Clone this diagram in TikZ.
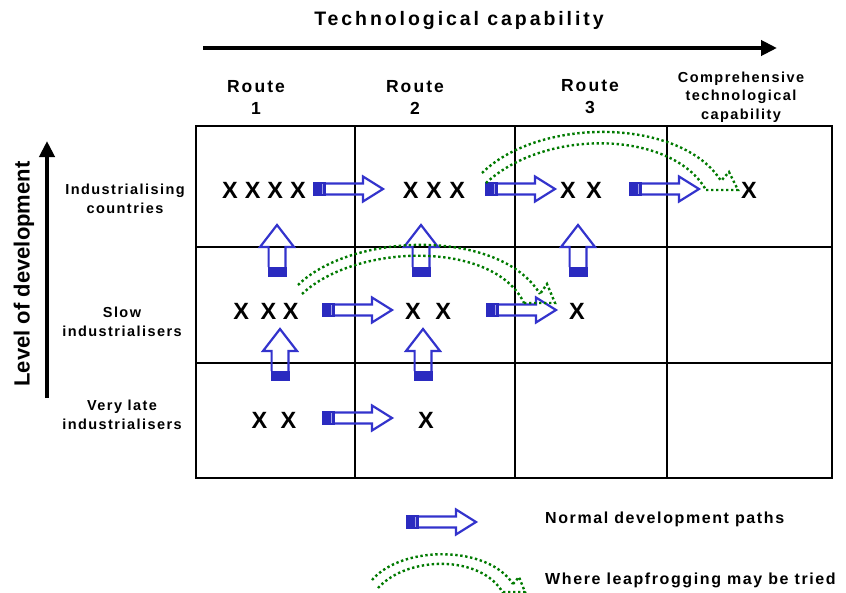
\documentclass[tikz,border=0pt]{standalone}
\usepackage{fontspec}
\setmainfont{Liberation Sans}
\newfontfamily\lsA[LetterSpace=10]{Liberation Sans}
\newfontfamily\lsB[LetterSpace=15]{Liberation Sans}
\newfontfamily\lsC[LetterSpace=12]{Liberation Sans}
\usetikzlibrary{arrows.meta}
\definecolor{arrblue}{HTML}{3333CC}
\definecolor{tailblue}{HTML}{2B2BC0}
\definecolor{leapgreen}{HTML}{007A00}
\tikzset{
  grid line/.style={line width=2.4pt, black},
  axis arrow/.style={line width=4pt, -{Triangle[length=16pt,width=15pt]}},
  lbl/.style={inner sep=0pt, align=center, font=\lsA\bfseries\fontsize{14.5}{18.5}\selectfont},
  routelbl/.style={inner sep=0pt, align=center, font=\lsC\bfseries\fontsize{17.5}{22}\selectfont},
  xlbl/.style={inner sep=0pt, font=\bfseries\fontsize{23.5}{23.5}\selectfont},
  leap/.style={draw=leapgreen, line width=2.4pt, dash pattern=on 2.4pt off 2.6pt},
  outl/.style={draw=arrblue, line width=2.2pt, line join=miter},
  pics/harr/.style={code={
    \fill[tailblue] (0,-6.6) rectangle (13,6.6);
    \draw[white!55!arrblue, line width=0.8pt] (9,-5) -- (9,5);
    \draw[outl] (13,-5.5) -- (50,-5.5) -- (50,-12.5) -- (70,0) -- (50,12.5) -- (50,5.5) -- (13,5.5);
  }},
  pics/varr/.style={code={
    \fill[tailblue] (-9.5,0) rectangle (9.5,-10);
    \draw[outl] (-8.4,-10) -- (-8.4,-30) -- (-17,-30) -- (0,-52) -- (17,-30) -- (8.4,-30) -- (8.4,-10);
  }}
}
\begin{document}
\begin{tikzpicture}[x=1pt,y=-1pt]
\useasboundingbox (0,0) rectangle (846,592);
% grid
\draw[grid line] (196,126) rectangle (832,478);
\foreach \xx in {355,515,667} \draw[grid line] (\xx,126) -- (\xx,478);
\foreach \yy in {247,363} \draw[grid line] (196,\yy) -- (832,\yy);
% axes
\node[inner sep=0pt, font=\lsB\bfseries\fontsize{19.5}{20}\selectfont] (title) at (459,20) {Technological capability};
\coordinate (hx0) at (203,48);
\coordinate (hx1) at (777,48);
\draw[axis arrow] (hx0) -- (hx1);
\coordinate (vy0) at (47,398);
\coordinate (vy1) at (47,141);
\draw[axis arrow] (vy0) -- (vy1);
\node[inner sep=0pt, rotate=90, font=\bfseries\fontsize{22}{22}\selectfont] (lod) at (24,274) {Level of development};
% column labels
\node[routelbl] (r1) at (256,97) {Route\\1};
\node[routelbl] (r2) at (415,97) {Route\\2};
\node[routelbl] (r3) at (590,97) {Route\\3};
\node[lbl] (ctc) at (741,97) {Comprehensive\\technological\\capability};
% row labels
\node[lbl] (ic) at (125,199) {Industrialising\\countries};
\node[lbl] (si) at (122,322) {Slow\\industrialisers};
\node[lbl] (vl) at (122,415) {Very late\\industrialisers};
% X marks
\node[xlbl] (a1) at (264,190) {X\hspace{7pt}X\hspace{7pt}X\hspace{7pt}X};
\node[xlbl] (a2) at (434,190) {X\hspace{7.5pt}X\hspace{7.5pt}X};
\node[xlbl] (a3) at (581,190) {X\hspace{10.5pt}X};
\node[xlbl] (a4) at (749,190) {X};
\node[xlbl] (b1) at (266,311) {X\hspace{11.5pt}X\hspace{6.5pt}X};
\node[xlbl] (b2) at (428,311) {X\hspace{14.5pt}X};
\node[xlbl] (b3) at (577,311) {X};
\node[xlbl] (c1) at (274,420) {X\hspace{13.5pt}X};
\node[xlbl] (c2) at (426,420) {X};
% horizontal arrows
\pic at (313,189) {harr};
\pic at (485,189) {harr};
\pic at (629,189) {harr};
\pic at (322,310) {harr};
\pic at (486,310) {harr};
\pic at (322,418) {harr};
% vertical arrows
\pic at (277,277) {varr};
\pic at (421,277) {varr};
\pic at (578,277) {varr};
\pic at (280,381) {varr};
\pic at (423,381) {varr};
% leapfrog arcs
\draw[leap] (482,173) .. controls (540,116) and (682,118) .. (721,181);
\draw[leap] (486,183) .. controls (545,128) and (672,130) .. (706,190);
\draw[leap] (706,190) -- (738,190) -- (729,172) -- (721,181);
\draw[leap] (298,285) .. controls (352,232) and (500,228) .. (540,294);
\draw[leap] (302,294) .. controls (356,243) and (494,240) .. (524,303);
\draw[leap] (524,303) -- (555,303) -- (547,284) -- (540,294);
% legend
\pic at (406,522) {harr};
\node[lbl, anchor=west, font=\lsA\bfseries\fontsize{16}{16}\selectfont] (leg1) at (545,519) {Normal development paths};
\draw[leap] (372,580) .. controls (402,545) and (488,545) .. (513,584);
\draw[leap] (378,588) .. controls (408,555) and (482,555) .. (503,593);
\draw[leap] (503,592) -- (525,592) -- (519,577) -- (513,584);
\node[lbl, anchor=west, font=\lsA\bfseries\fontsize{16}{16}\selectfont] (leg2) at (545,580) {Where leapfrogging may be tried};
\end{tikzpicture}
\end{document}
